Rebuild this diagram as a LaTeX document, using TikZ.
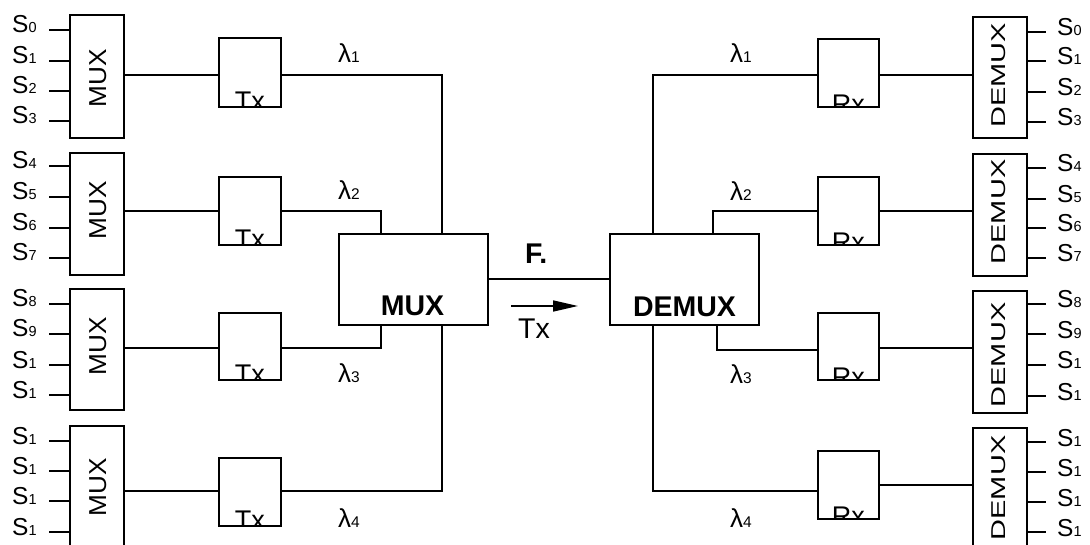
\documentclass[tikz,border=0pt]{standalone}
\usepackage{fontspec}
\setmainfont{Liberation Sans}
\usetikzlibrary{arrows.meta,calc}
\newcommand{\fsz}[1]{\fontsize{#1}{#1}\selectfont}
\newcommand{\Sg}[1]{S{\fsz{14.5}#1}}
\newcommand{\Lg}[1]{{\fsz{26}λ}{\fsz{15.5}#1}}
\begin{document}
\begin{tikzpicture}[x=1pt,y=-1pt,
  box/.style={draw, line width=1.7pt, inner sep=0pt, anchor=north west},
  wire/.style={line width=1.7pt},
  lab/.style={inner sep=0pt, anchor=base west, font=\fsz{24.5}},
  rot/.style={inner sep=0pt, rotate=90},
  big/.style={inner sep=0pt, anchor=base, font=\fsz{28.5}\bfseries},
  boxtxt/.style={inner sep=0pt, anchor=north, font=\fsz{27}}]
\useasboundingbox (0,0) rectangle (1090,545);
\clip (0,0) rectangle (1090,545);
\fill[white] (0,0) rectangle (1090,545);
% left MUX boxes
\node[box, minimum width=54pt, minimum height=123pt] (m1) at (69,14) {};
\node[box, minimum width=54pt, minimum height=122pt] (m2) at (69,152) {};
\node[box, minimum width=54pt, minimum height=121pt] (m3) at (69,288) {};
\node[box, minimum width=54pt, minimum height=150pt] (m4) at (69,425) {};
\node[rot] (m1t) at (98,78) {\fsz{24.5}\scalebox{1.07}[1]{MUX}};
\node[rot] (m2t) at (98,210) {\fsz{24.5}\scalebox{1.07}[1]{MUX}};
\node[rot] (m3t) at (98,346) {\fsz{24.5}\scalebox{1.07}[1]{MUX}};
\node[rot] (m4t) at (98,487) {\fsz{24.5}\scalebox{1.07}[1]{MUX}};
% left inputs
\foreach \y/\s/\b [count=\i] in {30/0/m1,61/1/m1,91/2/m1,121/3/m1,
  166/4/m2,197/5/m2,228/6/m2,258/7/m2,
  304/8/m3,334/9/m3,365/1/m3,395/1/m3,
  441/1/m4,471/1/m4,501/1/m4,532/1/m4}{
  \coordinate (in\i) at (49,\y);
  \node[lab] (sin\i) at (12,\y+3) {\Sg{\s}};
  \draw[wire] (in\i) -- (in\i -| \b.west);
}
% Tx boxes
\node[box, minimum width=62pt, minimum height=69pt] (t1) at (218,37) {};
\node[box, minimum width=62pt, minimum height=68pt] (t2) at (218,176) {};
\node[box, minimum width=62pt, minimum height=67pt] (t3) at (218,312) {};
\node[box, minimum width=62pt, minimum height=68pt] (t4) at (218,457) {};
\foreach \b in {t1,t2,t3,t4}{
  \begin{scope}
    \clip (\b.south west) rectangle (\b.north east);
    \node[boxtxt] (\b txt) at ($(\b.south)+(0,-16)$) {Tx};
  \end{scope}
}
% MUX -> Tx
\coordinate (l1) at (0,75);
\coordinate (l2) at (0,211);
\coordinate (l3) at (0,348);
\coordinate (l4) at (0,491);
\draw[wire] (m1.east |- l1) -- (t1.west |- l1);
\draw[wire] (m2.east |- l2) -- (t2.west |- l2);
\draw[wire] (m3.east |- l3) -- (t3.west |- l3);
\draw[wire] (m4.east |- l4) -- (t4.west |- l4);
% central MUX
\node[box, minimum width=149pt, minimum height=91pt] (cm) at (338,233) {};
\node[big] (cmt) at (412.5,316) {MUX};
\coordinate (j1) at (442,75);
\coordinate (j2) at (381,211);
\coordinate (j3) at (381,348);
\coordinate (j4) at (442,491);
\draw[wire] (t1.east |- j1) -- (j1) -- (j1 |- cm.north);
\draw[wire] (t2.east |- j2) -- (j2) -- (j2 |- cm.north);
\draw[wire] (t3.east |- j3) -- (j3) -- (j3 |- cm.south);
\draw[wire] (t4.east |- j4) -- (j4) -- (j4 |- cm.south);
\node[lab] (la1) at (338,63) {\Lg{1}};
\node[lab] (la2) at (338,200) {\Lg{2}};
\node[lab] (la3) at (338,382) {\Lg{3}};
\node[lab] (la4) at (338,527) {\Lg{4}};
% central DEMUX
\node[box, minimum width=149pt, minimum height=91pt] (cd) at (609,233) {};
\node[big] (cdt) at (684.5,317) {DEMUX};
\coordinate (f) at (0,279);
\draw[wire] (cm.east |- f) -- (cd.west |- f);
\node[big, anchor=base west] (ft) at (525,264) {F.};
\coordinate (ar0) at (511,306);
\coordinate (ar1) at (578,306);
\draw[wire, -{Triangle[length=25pt,width=11pt]}] (ar0) -- (ar1);
\node[inner sep=0pt, anchor=base west, font=\fsz{28.5}] (arl) at (518,339) {Tx};
% Rx boxes
\node[box, minimum width=61pt, minimum height=68pt] (r1) at (817,38) {};
\node[box, minimum width=61pt, minimum height=68pt] (r2) at (817,176) {};
\node[box, minimum width=61pt, minimum height=67pt] (r3) at (817,312) {};
\node[box, minimum width=61pt, minimum height=68pt] (r4) at (817,450) {};
\foreach \b in {r1,r2,r3,r4}{
  \begin{scope}
    \clip (\b.south west) rectangle (\b.north east);
    \node[boxtxt] (\b txt) at ($(\b.south)+(0,-13)$) {Rx};
  \end{scope}
}
\coordinate (k1) at (653,75);
\coordinate (k2) at (713,211);
\coordinate (k3) at (717,350);
\coordinate (k4) at (653,491);
\draw[wire] (k1 |- cd.north) -- (k1) -- (r1.west |- k1);
\draw[wire] (k2 |- cd.north) -- (k2) -- (r2.west |- k2);
\draw[wire] (k3 |- cd.south) -- (k3) -- (r3.west |- k3);
\draw[wire] (k4 |- cd.south) -- (k4) -- (r4.west |- k4);
\node[lab] (lb1) at (730,63) {\Lg{1}};
\node[lab] (lb2) at (730,201) {\Lg{2}};
\node[lab] (lb3) at (730,383) {\Lg{3}};
\node[lab] (lb4) at (730,527) {\Lg{4}};
% right DEMUX boxes
\node[box, minimum width=54pt, minimum height=121pt] (d1) at (972,16) {};
\node[box, minimum width=54pt, minimum height=122pt] (d2) at (972,153) {};
\node[box, minimum width=54pt, minimum height=122pt] (d3) at (972,290) {};
\node[box, minimum width=54pt, minimum height=150pt] (d4) at (972,427) {};
\node[rot] (d1t) at (998.5,75.5) {\fsz{20}\scalebox{1.45}[1]{DEMUX}};
\node[rot] (d2t) at (998.5,212) {\fsz{20}\scalebox{1.45}[1]{DEMUX}};
\node[rot] (d3t) at (998.5,355) {\fsz{20}\scalebox{1.45}[1]{DEMUX}};
\node[rot] (d4t) at (998.5,488) {\fsz{20}\scalebox{1.45}[1]{DEMUX}};
% Rx -> DEMUX
\coordinate (q1) at (0,75);
\coordinate (q2) at (0,211);
\coordinate (q3) at (0,348);
\coordinate (q4) at (0,485);
\draw[wire] (r1.east |- q1) -- (d1.west |- q1);
\draw[wire] (r2.east |- q2) -- (d2.west |- q2);
\draw[wire] (r3.east |- q3) -- (d3.west |- q3);
\draw[wire] (r4.east |- q4) -- (d4.west |- q4);
% right outputs
\foreach \y/\s/\b [count=\i] in {32/0/d1,61/1/d1,92/2/d1,122/3/d1,
  168/4/d2,199/5/d2,228/6/d2,258/7/d2,
  304/8/d3,334/9/d3,365/1/d3,396/1/d3,
  442/1/d4,472/1/d4,502/1/d4,532/1/d4}{
  \coordinate (out\i) at (1046,\y);
  \node[lab] (sout\i) at (1057,\y+4) {\Sg{\s}};
  \draw[wire] (out\i -| \b.east) -- (out\i);
}
\end{tikzpicture}
\end{document}
